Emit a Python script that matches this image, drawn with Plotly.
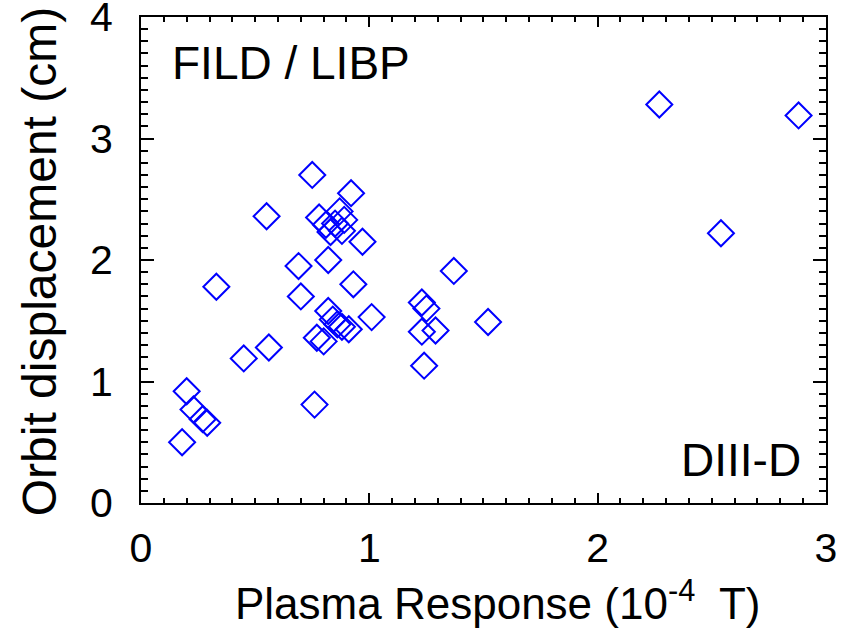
import plotly.graph_objects as go

plasma_response = [
    0.18, 0.20, 0.23, 0.27, 0.29, 0.45, 0.56, 0.76,
    0.33, 0.55, 0.75, 0.92,
    0.78, 0.81, 0.83, 0.85, 0.87, 0.89, 0.88,
    0.97, 0.82, 0.69, 0.93, 0.70,
    0.82, 0.84, 0.86, 0.88, 0.91, 0.77, 0.80,
    1.01, 1.23, 1.25, 1.23, 1.29, 1.24, 1.37, 1.52,
    2.27, 2.88, 2.54,
]
orbit_displacement = [
    0.50, 0.92, 0.77, 0.69, 0.66, 1.19, 1.28, 0.81,
    1.78, 2.36, 2.70, 2.55,
    2.35, 2.29, 2.23, 2.30, 2.40, 2.33, 2.24,
    2.15, 2.00, 1.95, 1.80, 1.70,
    1.58, 1.51, 1.47, 1.45, 1.43, 1.36, 1.33,
    1.53, 1.65, 1.60, 1.41, 1.42, 1.13, 1.91, 1.49,
    3.28, 3.19, 2.22,
]

x_ticks = [0, 1, 2, 3]
y_ticks = [0, 1, 2, 3, 4]

FONT = "Liberation Sans, Arial, sans-serif"

fig = go.Figure()
fig.add_trace(go.Scatter(
    x=plasma_response, y=orbit_displacement, mode="markers",
    marker=dict(symbol="diamond-open", size=20, color="#0000FF",
                line=dict(width=2, color="#0000FF")),
    showlegend=False, hoverinfo="skip",
))

axis_common = dict(
    showgrid=False, zeroline=False, showline=True, linecolor="black",
    linewidth=2, mirror="allticks", ticks="inside", tickcolor="black",
    tickwidth=2, tickfont=dict(family=FONT, size=41, color="black"),
    automargin=False, ticklabeloverflow="allow",
)

fig.update_xaxes(
    range=[0, 3.0001], tickvals=x_ticks, ticktext=[str(v) for v in x_ticks],
    ticklen=10, ticklabelstandoff=8,
    minor=dict(dtick=0.1, ticks="inside", ticklen=5, tickwidth=2, tickcolor="black"),
    **axis_common,
)
fig.update_yaxes(
    range=[0, 4.0001], tickvals=y_ticks, ticktext=[str(v) for v in y_ticks],
    ticklen=13, ticklabelstandoff=18,
    minor=dict(dtick=0.1, ticks="inside", ticklen=7, tickwidth=2, tickcolor="black"),
    **axis_common,
)

fig.add_annotation(x=0.52, y=-0.20, xref="paper", yref="paper",
                   text="Plasma Response (10<sup>-4</sup>  T)",
                   showarrow=False, xanchor="center", yanchor="middle",
                   font=dict(family=FONT, size=44, color="black"))
fig.add_annotation(x=-0.147, y=0.496, xref="paper", yref="paper",
                   text="Orbit displacement (cm)", textangle=-90,
                   showarrow=False, xanchor="center", yanchor="middle",
                   font=dict(family=FONT, size=48, color="black"))

fig.add_annotation(x=0.127, y=3.62, xref="x", yref="y", text="FILD / LIBP",
                   showarrow=False, xanchor="left", yanchor="middle",
                   font=dict(family=FONT, size=46, color="black"))
fig.add_annotation(x=2.90, y=0.355, xref="x", yref="y", text="DIII-D",
                   showarrow=False, xanchor="right", yanchor="middle",
                   font=dict(family=FONT, size=46, color="black"))

fig.update_layout(
    width=846, height=631,
    margin=dict(l=141, r=20, t=17, b=128),
    paper_bgcolor="white", plot_bgcolor="white",
)

fig.write_html("out.html")
